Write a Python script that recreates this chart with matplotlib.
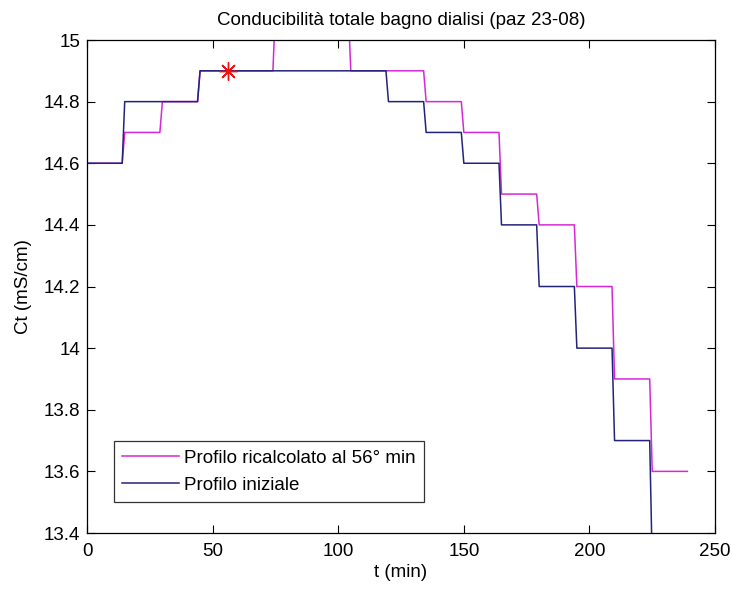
import matplotlib
matplotlib.use("Agg")
import matplotlib.pyplot as plt

plt.rcParams['font.family'] = ['Liberation Sans', 'DejaVu Sans']

# Conductivity profiles: minute at which each level starts, and the level (mS/cm)
t_ricalc = [0, 15, 30, 45, 75, 105, 135, 150, 165, 180, 195, 210, 225]
ct_ricalc = [14.6, 14.7, 14.8, 14.9, 15.1, 14.9, 14.8, 14.7, 14.5, 14.4, 14.2, 13.9, 13.6]
t_end_ricalc = 239

t_iniz = [0, 15, 45, 120, 135, 150, 165, 180, 195, 210, 225]
ct_iniz = [14.6, 14.8, 14.9, 14.8, 14.7, 14.6, 14.4, 14.2, 14.0, 13.7, 13.3]
t_end_iniz = 225

# Recalculation instant
t_star = 56
ct_star = 14.9

x_ticks = [0, 50, 100, 150, 200, 250]
y_ticks = [13.4, 13.6, 13.8, 14.0, 14.2, 14.4, 14.6, 14.8, 15.0]
y_ticklabels = ['13.4', '13.6', '13.8', '14', '14.2', '14.4', '14.6', '14.8', '15']

FS = 13.5


def sampled_steps(starts, levels, t_end):
    """Per-minute sampled profile: each level is held until the minute before the next change."""
    xs, ys = [], []
    for i, (s, v) in enumerate(zip(starts, levels)):
        e = starts[i + 1] - 1 if i + 1 < len(starts) else t_end
        xs += [s, e]
        ys += [v, v]
    return xs, ys


fig = plt.figure(figsize=(7.32, 5.90), dpi=100)
ax = fig.add_axes([0.1189, 0.0966, 0.8579, 0.8356])

xr, yr = sampled_steps(t_ricalc, ct_ricalc, t_end_ricalc)
xi, yi = sampled_steps(t_iniz, ct_iniz, t_end_iniz)

ax.plot(xr, yr, color='#d628d6', lw=1.1, label='Profilo ricalcolato al 56° min')
ax.plot(xi, yi, color='#23237a', lw=1.1, label='Profilo iniziale')
ax.plot([t_star], [ct_star], linestyle='none', marker=(8, 2, 0), markersize=13,
        markeredgewidth=1.0, color='#ee1111')

ax.set_xlim(0, 250)
ax.set_ylim(13.4, 15.0)
ax.set_xticks(x_ticks)
ax.set_yticks(y_ticks)
ax.set_yticklabels(y_ticklabels)
ax.tick_params(axis='both', direction='in', top=True, right=True, labelsize=FS,
               length=6, width=0.8)
ax.tick_params(axis='x', pad=7)
ax.tick_params(axis='y', pad=5)
for sp in ax.spines.values():
    sp.set_linewidth(0.9)

ax.set_title('Conducibilità totale bagno dialisi (paz 23-08)', fontsize=FS, pad=11)
ax.set_xlabel('t (min)', fontsize=FS, labelpad=3)
ax.set_ylabel('Ct (mS/cm)', fontsize=FS, labelpad=8)

leg = ax.legend(loc='lower left', bbox_to_anchor=(0.043, 0.063), borderaxespad=0,
                fontsize=FS, frameon=True, fancybox=False, edgecolor='black',
                handlelength=3.0, handletextpad=0.3, borderpad=0.45, labelspacing=0.5)
leg.get_frame().set_linewidth(0.9)

fig.savefig('out.png', dpi=100)
